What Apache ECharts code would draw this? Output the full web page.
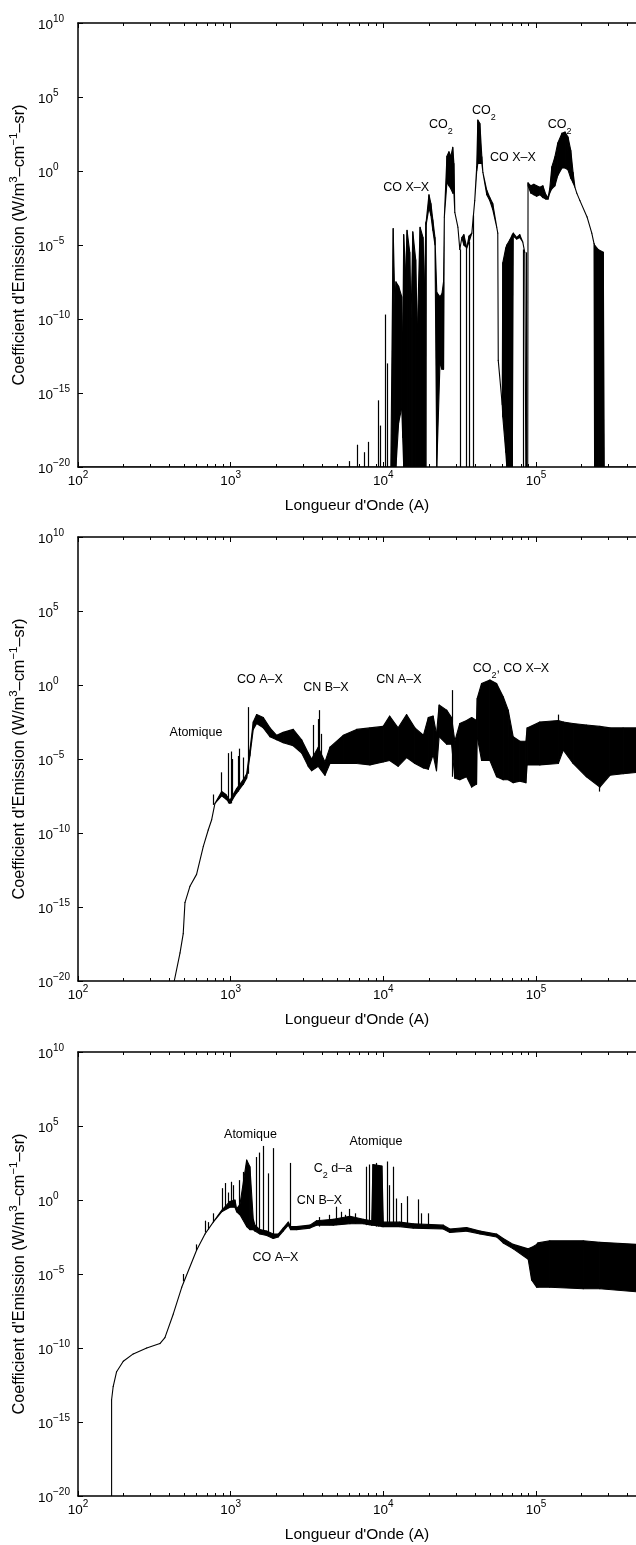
<!DOCTYPE html>
<html>
<head>
<meta charset="utf-8">
<title>Coefficient d'Emission</title>
<script src="https://cdn.jsdelivr.net/npm/echarts@6.0.0/dist/echarts.min.js"></script>
<style>
  html, body { margin: 0; padding: 0; background: #ffffff; }
  #chart { width: 636px; height: 1545px; }
</style>
</head>
<body>
<div id="chart"></div>
<script>
// ---------------------------------------------------------------------------
// Spectra: emission coefficient vs wavelength (Angstrom), three conditions.
// Each spectrum is an envelope (upper / lower) over wavelength; where the two
// coincide the spectrum is a single line, where they differ the dense band of
// lines is filled. Isolated lines are listed separately (top / base).
// ---------------------------------------------------------------------------

// ---- Panel 1 ----
const p1Wave = [100, 1.12e4, 1.16e4, 1.19e4, 1.21e4, 1.26e4, 1.32e4, 1.34e4, 1.36e4, 1.40e4,
  1.43e4, 1.49e4, 1.52e4, 1.56e4, 1.63e4, 1.67e4, 1.74e4, 1.82e4, 1.86e4, 1.90e4,
  1.91e4, 1.99e4, 2.05e4, 2.11e4, 2.18e4, 2.24e4, 2.35e4, 2.42e4, 2.48e4, 2.51e4, 2.61e4,
  2.69e4, 2.77e4, 2.85e4, 2.90e4, 2.94e4, 3.08e4, 3.17e4, 3.27e4, 3.37e4, 3.52e4,
  3.64e4, 3.80e4, 3.97e4, 4.09e4, 4.16e4, 4.29e4, 4.42e4, 4.49e4, 4.76e4, 4.98e4,
  5.21e4, 5.53e4, 5.62e4, 5.66e4, 6.01e4, 6.06e4, 6.34e4, 6.44e4, 6.73e4, 7.0e4,
  7.1e4, 7.48e4, 7.83e4, 8.19e4, 8.44e4, 8.58e4, 8.83e4, 8.87e4, 9.25e4, 9.68e4,
  1.01e5, 1.06e5, 1.11e5, 1.16e5, 1.20e5, 1.23e5, 1.27e5, 1.33e5, 1.39e5, 1.48e5,
  1.55e5, 1.62e5, 1.69e5, 1.75e5, 1.80e5, 1.85e5, 1.94e5, 2.16e5, 2.32e5, 2.40e5,
  2.42e5, 2.55e5, 2.76e5, 2.80e5, 4.6e5];
const p1Upper = [1e-20, 1e-20, 1.3e-4, 1e-9, 3.2e-8, 1.6e-8, 3.2e-9, 1e-12, 5e-5, 1e-7,
  1e-4, 3.2e-6, 1e-10, 7.9e-5, 1e-6, 1e-11, 1.6e-4, 3.2e-5, 1e-8, 3.2e-4,
  4e-4, 0.025, 6.3e-3, 5e-4, 3.2e-5, 6.3e-9, 3.2e-9, 5e-9, 3.2e-8, 7.9e-4, 10,
  20, 10, 40, 3.2, 1.6e-3, 1.6e-4, 5e-6, 3.2e-5, 5e-5, 6.3e-6,
  4e-5, 6.3e-5, 0.01, 2, 2800, 1600, 9, 0.8, 0.05, 0.016,
  6.3e-3, 1.6e-4, 6.3e-5, 1.6e-13, 1.6e-16, 6.3e-7, 6.3e-6, 1e-5, 2.2e-5, 5e-5,
  6.3e-5, 3.2e-5, 5e-5, 1.6e-5, 3.2e-6, 1e-20, 1e-20, 0.16, 0.1, 0.126,
  0.1, 0.079, 0.1, 0.025, 0.016, 0.063, 1.9, 9, 79, 360,
  430, 200, 25, 0.8, 0.079, 0.032, 0.01, 7.9e-4, 6.3e-5, 1.26e-5,
  1e-5, 5e-6, 3.2e-6, 1e-20, 1e-20];
const p1Lower = [1e-20, 1e-20, 1e-20, 1e-20, 1e-20, 1e-17, 1e-16, 1e-18, 1e-20, 1e-20,
  1e-20, 1e-20, 1e-20, 1e-20, 1e-20, 1e-20, 1e-20, 1e-20, 1e-20, 1e-20,
  2.5e-4, 3.2e-3, 1e-3, 1e-4, 1e-5, 1e-20, 1e-13, 4e-14, 4e-14, 7.9e-4, 0.16,
  0.1, 0.063, 0.032, 0.032, 1.6e-3, 1.6e-4, 5e-6, 3.2e-5, 1e-5, 6.3e-6,
  1.6e-5, 6.3e-5, 0.01, 1, 3.2, 3.2, 3.2, 0.8, 0.025, 0.01,
  2.5e-3, 1.6e-4, 6.3e-5, 1.6e-13, 1.6e-16, 2.5e-17, 1e-19, 1e-20, 1e-20, 1e-20,
  4e-5, 2.5e-5, 3.2e-5, 1.6e-5, 3.2e-6, 1e-20, 1e-20, 0.1, 0.032, 0.025,
  0.02, 0.025, 0.016, 0.0126, 0.0126, 0.032, 0.063, 0.1, 0.5, 1.6,
  1.6, 1.2, 0.32, 0.16, 0.079, 0.032, 0.01, 7.9e-4, 6.3e-5, 1.26e-5,
  1e-20, 1e-20, 1e-20, 1e-20, 1e-20];
const p1LineWave = [6.0e3, 6.8e3, 7.5e3, 8.05e3, 9.35e3, 9.6e3, 1.04e4, 1.07e4, 3.21e4, 3.52e4, 3.68e4, 3.91e4, 8.32e4, 8.65e4];
const p1LineTop = [2.5e-20, 3.2e-19, 1e-19, 5e-19, 3.2e-16, 6.3e-18, 2e-10, 1e-13, 5e-6, 6.3e-6, 1.6e-5, 1e-3, 5e-6, 3.2e-6];
const p1LineBase = [1e-20, 1e-20, 1e-20, 1e-20, 1e-20, 1e-20, 1e-20, 1e-20, 1e-20, 1e-20, 1e-20, 1e-20, 1e-20, 1e-20];
const p1Notes = [
  ['CO X\u2013X', 1.41e4, 0.083],
  ['CO{sub|2}', 2.38e4, 1500],
  ['CO{sub|2}', 4.56e4, 1.3e4],
  ['CO X\u2013X', 7.06e4, 9],
  ['CO{sub|2}', 1.43e5, 1500]
];

// ---- Panel 2 ----
const p2Wave = [427, 466, 489, 502, 541, 598, 662, 713, 751, 789,
  873, 931, 989, 1094, 1210, 1273, 1337, 1406, 1480, 1636,
  1809, 2000, 2209, 2569, 2917, 3222, 3389, 3748, 4148, 4472,
  5463, 6683, 8166, 9977, 1.10e4, 1.25e4, 1.42e4, 1.61e4, 1.83e4, 1.97e4,
  2.12e4, 2.23e4, 2.32e4, 2.60e4, 2.80e4, 2.94e4, 3.17e4, 3.51e4, 3.79e4, 4.08e4,
  4.12e4, 4.40e4, 4.99e4, 5.52e4, 6.10e4, 6.58e4, 7.09e4, 7.84e4, 8.59e4, 8.75e4,
  1.06e5, 1.40e5, 1.51e5, 1.75e5, 2.14e5, 2.62e5, 3.05e5, 3.72e5, 4.6e5];
const p2Upper = [1e-20, 7.9e-19, 1.6e-17, 2e-15, 2.5e-14, 1.6e-13, 1.26e-11, 1.6e-10, 7.9e-10, 1e-8,
  6.3e-8, 4e-8, 1.6e-8, 1e-7, 4e-7, 1e-6, 4e-5, 3.2e-3, 0.01, 6.3e-3,
  1.26e-3, 4e-4, 6.3e-4, 1e-3, 2e-4, 2.5e-5, 1e-5, 6.3e-5, 6.3e-6, 6.3e-5,
  4e-4, 1e-3, 1.26e-3, 1.6e-3, 7.9e-3, 1.26e-3, 0.01, 1.26e-3, 4e-4, 6.3e-3,
  7.9e-3, 5e-4, 0.045, 0.02, 6.3e-3, 1.6e-4, 2.5e-3, 4e-3, 6.3e-3, 4e-3,
  0.126, 1.26, 2.2, 1.26, 0.16, 0.02, 3.2e-4, 1.6e-4, 1.6e-4, 1.26e-3,
  3.2e-3, 4e-3, 3.2e-3, 2.5e-3, 2e-3, 1.6e-3, 1.26e-3, 1.26e-3, 1.26e-3];
const p2Lower = [1e-20, 7.9e-19, 1.6e-17, 2e-15, 2.5e-14, 1.6e-13, 1.26e-11, 1.6e-10, 7.9e-10, 1e-8,
  3.2e-8, 2e-8, 1e-8, 5e-8, 2e-7, 5e-7, 1.6e-5, 1e-3, 2.5e-3, 1.26e-3,
  3.2e-4, 2e-4, 1.26e-4, 7.9e-5, 2.5e-5, 3.2e-6, 1.6e-6, 3.2e-6, 7.9e-7, 5e-6,
  5e-6, 5e-6, 4e-6, 6.3e-6, 7.9e-6, 3.2e-6, 1.26e-5, 5e-6, 2.5e-6, 2e-6,
  2e-5, 1.6e-6, 3.2e-4, 1e-4, 1e-4, 5e-7, 4e-7, 6.3e-7, 1.26e-7, 2e-7,
  3.2e-4, 7.9e-6, 7.9e-6, 6.3e-7, 4e-7, 4e-7, 2.5e-7, 3.2e-7, 2.5e-7, 4e-6,
  4e-6, 5e-6, 4e-5, 5e-6, 6.3e-7, 1.26e-7, 7.9e-7, 1e-6, 1.26e-6];
const p2LineWave = [775, 873, 970, 1007, 1035, 1122, 1151, 1210, 1303, 3512, 3748, 3845, 3963, 2.84e4, 1.41e5, 2.62e5];
const p2LineTop = [4e-8, 1.26e-6, 2.5e-5, 3.2e-5, 1e-5, 1.6e-5, 5e-5, 1.26e-5, 0.032, 2e-3, 5e-3, 0.02, 5e-4, 0.45, 0.01, 1.6e-3];
const p2LineBase = [7.9e-9, 3.2e-8, 1e-8, 1e-8, 1.6e-8, 6.3e-8, 1e-7, 2e-7, 1e-6, 3.2e-6, 1e-5, 6.3e-6, 1.6e-6, 6.3e-7, 4e-3, 6.3e-8];
const p2Notes = [
  ['Atomique', 593, 6.6e-4],
  ['CO A\u2013X', 1556, 2.6],
  ['CN B\u2013X', 4207, 0.72],
  ['CN A\u2013X', 1.265e4, 2.6],
  ['CO{sub|2}, CO X\u2013X', 6.85e4, 14]
];

// ---- Panel 3 ----
const p3Wave = [166, 166, 170, 179, 198, 230, 282, 344, 371, 421,
  478, 598, 679, 769, 873, 989, 1067, 1094, 1151, 1273,
  1337, 1406, 1442, 1555, 1722, 1901, 2049, 2209, 2384, 2471,
  2702, 3304, 3656, 4700, 6043, 7386, 8395, 8551, 9790, 1.0e4,
  1.28e4, 1.57e4, 2.47e4, 2.73e4, 3.51e4, 4.30e4, 5.52e4, 6.10e4, 7.10e4, 8.89e4,
  9.36e4, 1.01e5, 1.03e5, 1.23e5, 2.04e5, 2.62e5, 4.6e5];
const p3Upper = [1e-20, 3.2e-14, 2.5e-13, 2.5e-12, 1.26e-11, 4e-11, 1e-10, 2e-10, 5e-10, 2e-8,
  1.26e-6, 4e-4, 5e-3, 0.032, 0.2, 0.8, 1, 0.25, 0.5, 500,
  178, 0.05, 0.02, 0.01, 7.9e-3, 5e-3, 5e-3, 0.0126, 0.032, 0.016,
  0.016, 0.02, 0.04, 0.05, 0.079, 0.05, 0.04, 250, 200, 0.032,
  0.032, 0.025, 0.02, 0.011, 0.014, 7.9e-3, 5e-3, 2.5e-3, 1e-3, 5e-4,
  6.3e-4, 1e-3, 1.26e-3, 1.78e-3, 1.78e-3, 1.41e-3, 1e-3];
const p3Lower = [1e-20, 3.2e-14, 2.5e-13, 2.5e-12, 1.26e-11, 4e-11, 1e-10, 2e-10, 5e-10, 2e-8,
  1.26e-6, 4e-4, 5e-3, 0.032, 0.16, 0.32, 0.32, 0.16, 0.1, 0.016,
  0.01, 0.01, 7.9e-3, 5e-3, 4e-3, 2.5e-3, 3.2e-3, 7.9e-3, 0.02, 0.01,
  0.01, 0.0126, 0.02, 0.02, 0.025, 0.025, 0.02, 0.02, 0.016, 0.016,
  0.016, 0.0126, 0.011, 6.3e-3, 7.9e-3, 5e-3, 3.2e-3, 1.26e-3, 5e-4, 1e-4,
  4e-6, 1.26e-6, 1.26e-6, 1.26e-6, 1e-6, 1e-6, 6.3e-7];
const p3LineWave = [489, 598, 689, 721, 767, 887, 931, 964, 1016, 1040,
  1151, 1210, 1480, 1555, 1652, 1763, 1901, 2479, 3845, 4467,
  4945, 5356, 5690, 6043, 6620, 7776, 8166, 9040, 9356, 1.06e4,
  1.10e4, 1.16e4, 1.22e4, 1.32e4, 1.43e4, 1.69e4, 1.78e4, 1.97e4];
const p3LineTop = [1e-5, 1e-3, 0.04, 0.032, 0.126, 6.3, 14, 3.2, 17, 10,
  22, 79, 800, 1600, 4500, 63, 3200, 320, 0.07, 0.1,
  0.35, 0.16, 0.1, 0.25, 0.126, 178, 250, 320, 160, 400,
  10, 178, 1.26, 0.63, 1.8, 1.1, 0.126, 0.126];
const p3LineBase = [3.2e-6, 4e-4, 6.3e-3, 0.01, 0.032, 0.16, 0.25, 0.3, 0.4, 0.4,
  0.1, 0.05, 0.01, 5e-3, 5e-3, 4e-3, 2.5e-3, 0.01, 0.016, 0.02,
  0.02, 0.025, 0.025, 0.025, 0.025, 0.02, 0.02, 0.016, 0.016, 0.016,
  0.016, 0.016, 0.016, 0.016, 0.016, 0.0126, 0.0126, 0.0126];
const p3Notes = [
  ['Atomique', 1348, 2.9e4],
  ['Atomique', 8944, 8900],
  ['C{sub|2} d\u2013a', 4677, 145],
  ['CN B\u2013X', 3815, 1],
  ['CO A\u2013X', 1965, 1.4e-4]
];

// Axis ranges and minor tick positions on the wavelength axis
const WAVE_MIN = 100, WAVE_MAX = 4.52e5;
const COEF_MIN = 1e-20, COEF_MAX = 1e10;
const minorTickWave = [200, 300, 400, 500, 600, 700, 800, 900,
  2000, 3000, 4000, 5000, 6000, 7000, 8000, 9000,
  2e4, 3e4, 4e4, 5e4, 6e4, 7e4, 8e4, 9e4,
  2e5, 3e5, 4e5];

const X_NAME = "Longueur d'Onde (A)";
const Y_NAME = "{b|Coefficient d'Emission (W/m}{s|3}{b|\u2013cm}{s|\u22121}{b|\u2013sr)}";

// ---------------------------------------------------------------------------
const FONT = '"Liberation Sans", Arial, Helvetica, sans-serif';
const INK = '#000000';

const panels = [
  { top: 23,   wave: p1Wave, upper: p1Upper, lower: p1Lower, lw: p1LineWave, lt: p1LineTop, lb: p1LineBase, notes: p1Notes },
  { top: 537,  wave: p2Wave, upper: p2Upper, lower: p2Lower, lw: p2LineWave, lt: p2LineTop, lb: p2LineBase, notes: p2Notes },
  { top: 1052, wave: p3Wave, upper: p3Upper, lower: p3Lower, lw: p3LineWave, lt: p3LineTop, lb: p3LineBase, notes: p3Notes }
];

// "10" with a raised exponent; empty for anything that is not a decade
function powerLabel(v) {
  const e = Math.log10(v);
  const r = Math.round(e);
  if (Math.abs(e - r) > 1e-6) return '';
  const exp = r < 0 ? '\u2212' + (-r) : String(r);
  return '{b|10}{s|' + exp + '}';
}
const tickRich = {
  b: { fontSize: 13.5, fontFamily: FONT, color: INK, verticalAlign: 'bottom' },
  s: { fontSize: 10, fontFamily: FONT, color: INK, verticalAlign: 'top', padding: [0, 0, 8, 0] }
};
const nameRich = {
  b: { fontSize: 16.3, fontFamily: FONT, color: INK, verticalAlign: 'bottom' },
  s: { fontSize: 11.5, fontFamily: FONT, color: INK, verticalAlign: 'top', padding: [0, 0, 7, 0] }
};
const axisLine = { show: true, onZero: false, lineStyle: { color: INK, width: 1.5 } };
const axisTick = { show: true, inside: true, length: 5, lineStyle: { color: INK, width: 1 } };

const option = {
  animation: false,
  backgroundColor: '#ffffff',
  grid: [], xAxis: [], yAxis: [], series: []
};

panels.forEach((p, i) => {
  option.grid.push({ left: 78, right: 0, top: p.top, height: 444, containLabel: false });

  // bottom wavelength axis (labels + name)
  option.xAxis.push({
    type: 'log', logBase: 10, gridIndex: i, position: 'bottom',
    min: WAVE_MIN, max: WAVE_MAX,
    axisLine, axisTick,
    axisLabel: { formatter: powerLabel, margin: 3, rich: tickRich, showMaxLabel: false },
    splitLine: { show: false },
    name: X_NAME, nameLocation: 'middle', nameGap: 31,
    nameTextStyle: { fontSize: 15.5, fontFamily: FONT, color: INK }
  });
  // top mirror axis (ticks only)
  option.xAxis.push({
    type: 'log', logBase: 10, gridIndex: i, position: 'top',
    min: WAVE_MIN, max: WAVE_MAX,
    axisLine, axisTick,
    axisLabel: { show: false },
    splitLine: { show: false }
  });
  // emission coefficient axis, one tick every five decades
  option.yAxis.push({
    type: 'log', logBase: 1e5, gridIndex: i,
    min: COEF_MIN, max: COEF_MAX,
    axisLine, axisTick,
    axisLabel: { formatter: powerLabel, align: 'left', margin: 40, rich: tickRich },
    splitLine: { show: false },
    name: Y_NAME, nameLocation: 'middle', nameGap: 42, nameRotate: 90,
    nameTextStyle: { fontSize: 16.3, fontFamily: FONT, color: INK, rich: nameRich }
  });

  const xi = 2 * i;

  // filled envelope, drawn segment by segment
  const segs = [];
  for (let k = 0; k < p.wave.length - 1; k++) {
    segs.push([p.wave[k], p.upper[k], p.lower[k], p.wave[k + 1], p.upper[k + 1], p.lower[k + 1]]);
  }
  option.series.push({
    type: 'custom', xAxisIndex: xi, yAxisIndex: i, clip: true, silent: true,
    encode: { x: [0, 3], y: [1, 2, 4, 5] },
    data: segs,
    renderItem: (params, api) => {
      const pts = [
        api.coord([api.value(0), api.value(1)]),
        api.coord([api.value(3), api.value(4)]),
        api.coord([api.value(3), api.value(5)]),
        api.coord([api.value(0), api.value(2)])
      ];
      return {
        type: 'polygon', shape: { points: pts },
        style: { fill: INK, stroke: INK, lineWidth: 1.1, lineJoin: 'round' }
      };
    }
  });

  // isolated lines
  option.series.push({
    type: 'custom', xAxisIndex: xi, yAxisIndex: i, clip: true, silent: true,
    encode: { x: 0, y: [1, 2] },
    data: p.lw.map((w, k) => [w, p.lt[k], p.lb[k]]),
    renderItem: (params, api) => {
      const a = api.coord([api.value(0), api.value(2)]);
      const b = api.coord([api.value(0), api.value(1)]);
      const x = Math.round(a[0] - 0.5) + 0.5;
      return {
        type: 'line', shape: { x1: x, y1: a[1], x2: x, y2: b[1] },
        style: { stroke: INK, lineWidth: 1.2 }
      };
    }
  });

  // minor ticks on the bottom and top wavelength axes
  option.series.push({
    type: 'custom', xAxisIndex: xi, yAxisIndex: i, clip: false, silent: true,
    encode: { x: 0, y: 1 },
    data: minorTickWave.map(w => [w, COEF_MIN]),
    renderItem: (params, api) => {
      const cs = params.coordSys;
      const x = Math.round(api.coord([api.value(0), COEF_MIN])[0] - 0.5) + 0.5;
      if (x < cs.x || x > cs.x + cs.width) return null;
      const yb = cs.y + cs.height, yt = cs.y;
      return {
        type: 'group', children: [
          { type: 'line', shape: { x1: x, y1: yb, x2: x, y2: yb - 3 }, style: { stroke: INK, lineWidth: 1 } },
          { type: 'line', shape: { x1: x, y1: yt, x2: x, y2: yt + 3 }, style: { stroke: INK, lineWidth: 1 } }
        ]
      };
    }
  });

  // band annotations
  const notes = p.notes;
  option.series.push({
    type: 'custom', xAxisIndex: xi, yAxisIndex: i, clip: false, silent: true,
    encode: { x: 0, y: 1 },
    data: notes.map(n => [n[1], n[2]]),
    renderItem: (params, api) => {
      const c = api.coord([api.value(0), api.value(1)]);
      return {
        type: 'text', x: c[0], y: c[1] - 6.25,
        style: {
          text: '{t|' + notes[params.dataIndex][0].replace(/\{sub\|2\}/g, '}{sub|2}{t|') + '}',
          fill: INK, align: 'center', verticalAlign: 'top',
          fontSize: 12.5, fontFamily: FONT,
          rich: {
            t: { fontSize: 12.5, fontFamily: FONT, fill: INK, verticalAlign: 'top' },
            sub: { fontSize: 9, fontFamily: FONT, fill: INK, verticalAlign: 'top', padding: [9, 0, 0, 0] }
          }
        }
      };
    }
  });
});

const chart = echarts.init(document.getElementById('chart'), null, { renderer: 'canvas', width: 636, height: 1545 });
chart.setOption(option);
</script>
</body>
</html>
